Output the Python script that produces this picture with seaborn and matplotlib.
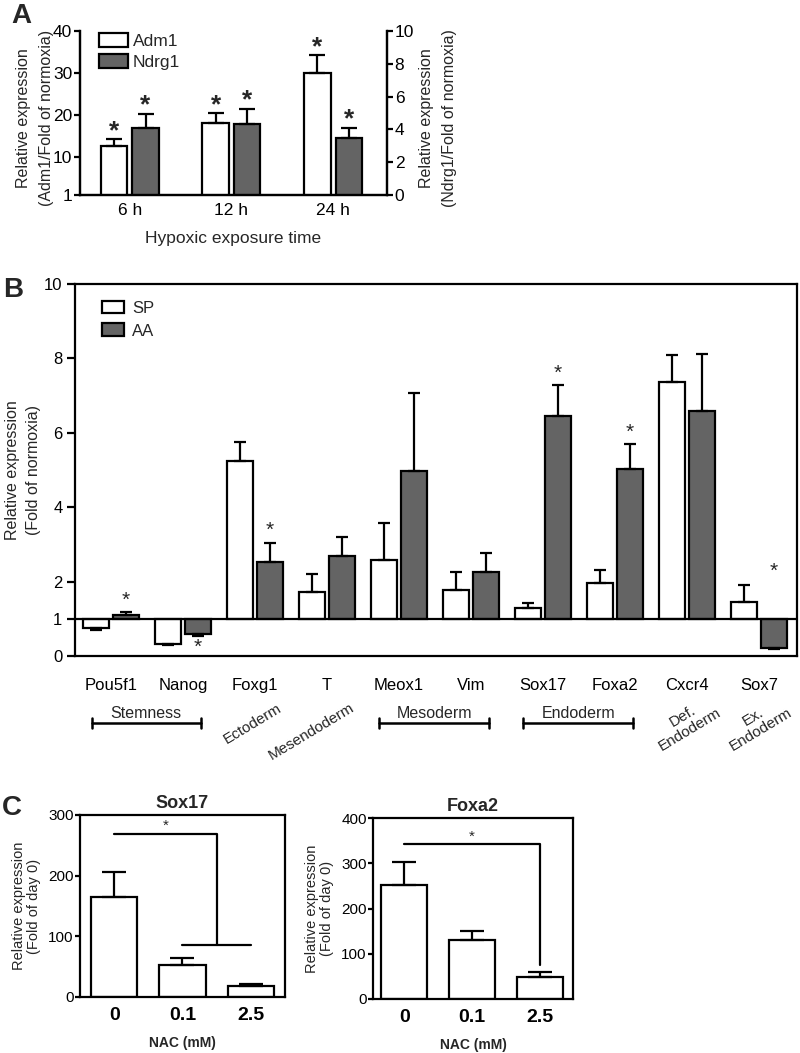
import numpy as np
import pandas as pd
import matplotlib
matplotlib.use("Agg")
import matplotlib.pyplot as plt
import seaborn as sns
from matplotlib.patches import Patch

# ---------------------------------------------------------------
# Data
# ---------------------------------------------------------------
# Panel A: hypoxia time course
TIMES = ["6 h", "12 h", "24 h"]
ADM1 = [12.7, 18.2, 30.1]          # left axis
ADM1_ERR = [1.5, 2.2, 4.1]
NDRG1 = [4.07, 4.33, 3.46]         # right axis
NDRG1_ERR = [0.85, 0.90, 0.64]

# Panel B: lineage markers, SP vs AA
GENES = ["Pou5f1", "Nanog", "Foxg1", "T", "Meox1", "Vim", "Sox17", "Foxa2", "Cxcr4", "Sox7"]
SP = [0.76, 0.31, 5.24, 1.73, 2.58, 1.78, 1.30, 1.96, 7.37, 1.44]
SP_ERR = [0.06, 0.02, 0.50, 0.47, 1.00, 0.47, 0.12, 0.34, 0.72, 0.48]
AA = [1.10, 0.58, 2.54, 2.69, 4.96, 2.25, 6.45, 5.04, 6.59, 0.22]
AA_ERR = [0.07, 0.04, 0.51, 0.52, 2.12, 0.53, 0.83, 0.65, 1.54, 0.04]
AA_SIG = [True, True, True, False, False, False, True, True, False, True]

BRACKETS = [("Stemness", 0, 1), ("Mesoderm", 4, 5), ("Endoderm", 6, 7)]
ROTATED = [("Ectoderm", 1.97, -0.182), ("Mesendoderm", 2.79, -0.203),
           ("Def.\nEndoderm", 7.99, -0.180), ("Ex.\nEndoderm", 8.98, -0.180)]

# Panel C: NAC dose
DOSES = ["0", "0.1", "2.5"]
SOX17 = [165, 53, 18]
SOX17_ERR = [41, 12, 4]
FOXA2 = [252, 130, 48]
FOXA2_ERR = [51, 21, 11]

DARK = "#646464"
LW = 1.6

sns.set_style("ticks")
plt.rcParams["font.family"] = ["Liberation Sans", "DejaVu Sans"]
plt.rcParams["axes.linewidth"] = LW
plt.rcParams["xtick.major.width"] = LW
plt.rcParams["ytick.major.width"] = LW
plt.rcParams["xtick.color"] = "black"
plt.rcParams["ytick.color"] = "black"
plt.rcParams["axes.edgecolor"] = "black"

fig = plt.figure(figsize=(8, 10.53), dpi=100)
W, H = 800, 1053


def box(left, top, right, bottom):
    return [left / W, 1 - bottom / H, (right - left) / W, (bottom - top) / H]


def add_errs(ax, bars, vals, errs, capsize, down=None):
    for bar, v, e in zip(bars, vals, errs):
        xc = bar.get_x() + bar.get_width() / 2
        if down is not None and v < down:
            yerr = [[e], [0]]
        else:
            yerr = [[0], [e]]
        ax.errorbar(xc, v, yerr=yerr, fmt="none", ecolor="black",
                    elinewidth=LW, capsize=capsize, capthick=LW, zorder=3)


# ===============================================================
# Panel A
# ===============================================================
axA = fig.add_axes(box(80, 31, 387, 195))
axA2 = axA.twinx()

df_adm = pd.DataFrame({"time": TIMES, "gene": "Adm1", "val": ADM1})
df_ndr = pd.DataFrame({"time": TIMES, "gene": "Ndrg1", "val": NDRG1})
pal_a = {"Adm1": "white", "Ndrg1": DARK}

sns.barplot(data=df_adm, x="time", y="val", hue="gene", hue_order=["Adm1", "Ndrg1"],
            palette=pal_a, width=0.62, gap=0.16, dodge=True, edgecolor="black",
            linewidth=LW, errorbar=None, legend=False, ax=axA)
sns.barplot(data=df_ndr, x="time", y="val", hue="gene", hue_order=["Adm1", "Ndrg1"],
            palette=pal_a, width=0.62, gap=0.16, dodge=True, edgecolor="black",
            linewidth=LW, errorbar=None, legend=False, ax=axA2)

add_errs(axA, axA.patches, ADM1, ADM1_ERR, capsize=6)
add_errs(axA2, axA2.patches, NDRG1, NDRG1_ERR, capsize=6)

for ax, bars, vals, errs in [(axA, axA.patches, ADM1, ADM1_ERR),
                             (axA2, axA2.patches, NDRG1, NDRG1_ERR)]:
    for bar, v, e in zip(bars, vals, errs):
        xc = bar.get_x() + bar.get_width() / 2
        ax.annotate("*", xy=(xc, v + e), xytext=(0, -2.5), textcoords="offset points",
                    ha="center", va="bottom", fontsize=19, fontweight="bold")

axA.set_ylim(1, 40)
axA.set_yticks([1, 10, 20, 30, 40])
axA2.set_ylim(0, 10)
axA2.set_yticks([0, 2, 4, 6, 8, 10])
axA.set_xlim(-0.49, 2.53)
axA2.set_xlim(-0.49, 2.53)
for ax in (axA, axA2):
    ax.spines["top"].set_visible(False)
    ax.tick_params(axis="x", length=0, pad=6, labelsize=12.5)
    ax.tick_params(axis="y", length=4, direction="out", pad=1.5, labelsize=12.5)
axA2.spines["right"].set_visible(True)
axA2.set_xlabel("")
axA.set_xlabel("Hypoxic exposure time", fontsize=12.5, labelpad=9)
axA.set_ylabel("Relative expression\n(Adm1/Fold of normoxia)", fontsize=11.5,
               linespacing=1.7)
axA.yaxis.set_label_coords(-0.085, 0.47)
axA2.set_ylabel("Relative expression\n(Ndrg1/Fold of normoxia)", fontsize=11.5,
                linespacing=1.65, rotation=90, va="top")
axA2.yaxis.set_label_coords(1.105, 0.47)

handles_a = [Patch(facecolor="white", edgecolor="black", linewidth=LW, label="Adm1"),
             Patch(facecolor=DARK, edgecolor="black", linewidth=LW, label="Ndrg1")]
axA2.legend(handles=handles_a, loc="upper left", bbox_to_anchor=(0.062, 0.985),
            frameon=False, fontsize=12.5, handlelength=1.65, handleheight=0.85,
            handletextpad=0.3, labelspacing=0.25, borderpad=0, borderaxespad=0)

# ===============================================================
# Panel B
# ===============================================================
axB = fig.add_axes(box(75, 284, 797, 656))
df_b = pd.DataFrame({"gene": GENES * 2,
                     "group": ["SP"] * len(GENES) + ["AA"] * len(GENES),
                     "value": SP + AA})
df_b["rise"] = df_b["value"] - 1  # bars are drawn from the 1-fold baseline

sns.barplot(data=df_b, x="gene", y="rise", hue="group", hue_order=["SP", "AA"],
            palette={"SP": "white", "AA": DARK}, width=0.84, gap=0.14, bottom=1,
            edgecolor="black", linewidth=LW, errorbar=None, legend=False, ax=axB)
bars_b = list(axB.patches)
add_errs(axB, bars_b, SP + AA, SP_ERR + AA_ERR, capsize=4.5, down=1)
axB.axhline(1, color="black", lw=LW, zorder=4)

aa_bars = bars_b[len(GENES):]
for i, (bar, v, e, sig) in enumerate(zip(aa_bars, AA, AA_ERR, AA_SIG)):
    if not sig:
        continue
    xc = bar.get_x() + bar.get_width() / 2
    if GENES[i] == "Sox7":
        # star sits level with the SP error bar for Sox7
        anchor, off = SP[i] + SP_ERR[i], 3
    elif v < 1:
        anchor, off = v - e, -15
    else:
        anchor, off = v + e, 2
    axB.annotate("*", xy=(xc, anchor), xytext=(0, off), textcoords="offset points",
                 ha="center", va="bottom", fontsize=15)

axB.set_ylim(0, 10)
axB.set_yticks([0, 1, 2, 4, 6, 8, 10])
axB.set_xlim(-0.5, 9.53)
axB.tick_params(axis="x", length=0, pad=16, labelsize=12)
axB.tick_params(axis="y", length=6, direction="out", pad=3, labelsize=12)
axB.set_xlabel("")
axB.set_ylabel("Relative expression\n(Fold of normoxia)", fontsize=11.5,
               linespacing=1.5, labelpad=2)

handles_b = [Patch(facecolor="white", edgecolor="black", linewidth=LW, label="SP"),
             Patch(facecolor=DARK, edgecolor="black", linewidth=LW, label="AA")]
axB.legend(handles=handles_b, loc="upper left", bbox_to_anchor=(0.038, 0.955),
           frameon=False, fontsize=12, handlelength=1.3, handleheight=0.8,
           handletextpad=0.5, labelspacing=0.45, borderpad=0, borderaxespad=0)

trans = axB.get_xaxis_transform()
for name, i0, i1 in BRACKETS:
    x0, x1 = i0 - 0.27, i1 + 0.25
    axB.plot([x0, x1], [-0.181, -0.181], transform=trans, color="black", lw=1.8,
             clip_on=False)
    for xe in (x0, x1):
        axB.plot([xe, xe], [-0.168, -0.194], transform=trans, color="black", lw=1.8,
                 clip_on=False)
    axB.text((x0 + x1) / 2, -0.155, name, transform=trans, ha="center", va="center",
             fontsize=11.5)
for name, xpos, ypos in ROTATED:
    axB.text(xpos, ypos, name, transform=trans, ha="center", va="center",
             rotation=31, rotation_mode="anchor", multialignment="center",
             fontsize=11, linespacing=1.1)

# ===============================================================
# Panel C
# ===============================================================
def nac_panel(ax, title, vals, errs, ymax, step, xlim):
    df = pd.DataFrame({"dose": DOSES, "val": vals})
    sns.barplot(data=df, x="dose", y="val", color="white", width=0.68,
                edgecolor="black", linewidth=LW, errorbar=None, ax=ax)
    add_errs(ax, ax.patches, vals, errs, capsize=8.5)
    ax.set_ylim(0, ymax)
    ax.set_yticks(np.arange(0, ymax + 1, step))
    ax.set_xlim(*xlim)
    ax.tick_params(axis="x", length=0, pad=7, labelsize=14)
    for lab in ax.get_xticklabels():
        lab.set_fontweight("bold")
    ax.tick_params(axis="y", length=3.5, direction="out", pad=1, labelsize=11)
    ax.set_title(title, fontsize=13, fontweight="bold", pad=5)
    ax.set_xlabel("NAC (mM)", fontsize=10, fontweight="bold", labelpad=9)
    ax.set_ylabel("Relative expression\n(Fold of day 0)", fontsize=10.5,
                  linespacing=1.1, labelpad=5)


axC1 = fig.add_axes(box(80, 815, 285, 997))
nac_panel(axC1, "Sox17", SOX17, SOX17_ERR, 300, 100, (-0.5, 2.5))
# significance bracket: 0 vs (0.1 and 2.5)
axC1.plot([0, 1.5, 1.5], [269, 269, 86], color="black", lw=LW)
axC1.plot([1, 2], [86, 86], color="black", lw=LW)
axC1.text(0.75, 270, "*", ha="center", va="bottom", fontsize=11)

axC2 = fig.add_axes(box(373, 818, 573, 999))
nac_panel(axC2, "Foxa2", FOXA2, FOXA2_ERR, 400, 100, (-0.46, 2.49))
axC2.plot([0, 2, 2], [342, 342, 75], color="black", lw=LW)
axC2.text(1, 344, "*", ha="center", va="bottom", fontsize=11)

# panel letters
for letter, (x, y) in {"A": (11, 3), "B": (3, 277), "C": (2, 795)}.items():
    fig.text(x / W, 1 - y / H, letter, fontsize=20, fontweight="bold",
             ha="left", va="top")

fig.savefig("out.png", dpi=100)
